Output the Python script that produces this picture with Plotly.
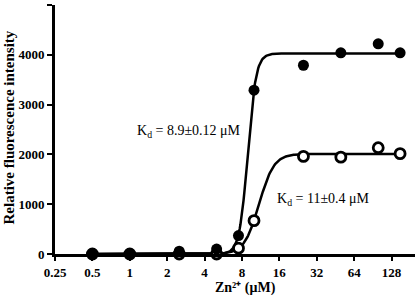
import numpy as np
import plotly.graph_objects as go

# Data
zn_conc = [0.5, 1, 2.5, 5, 7.5, 10, 25, 50, 100, 150]
filled_vals = [0, 0, 55, 100, 370, 3290, 3790, 4040, 4220, 4040]
open_vals = [0, 0, 0, 0, 117, 670, 1960, 1945, 2135, 2015]

# Hill fit parameters
fit_filled = dict(kd=8.9, bmax=4025, n=13)
fit_open = dict(kd=11.0, bmax=2010, n=7.3)

x_ticks = [0.25, 0.5, 1, 2, 4, 8, 16, 32, 64, 128]
x_ticktext = ["0.25", "0.5", "1", "2", "4", "8", "16", "32", "64", "128"]
y_ticks = [0, 1000, 2000, 3000, 4000, 5000]
y_ticktext = ["0", "1000", "2000", "3000", "4000", "5000"]

FONT = "Liberation Serif"


def hill(x, kd, bmax, n):
    x = np.asarray(x, dtype=float)
    return bmax * x**n / (kd**n + x**n)


xfit = np.logspace(np.log10(0.5), np.log10(150), 400)

fig = go.Figure()
fig.add_trace(go.Scatter(x=xfit, y=hill(xfit, **fit_open), mode="lines",
                         line=dict(color="black", width=2.5), cliponaxis=False,
                         showlegend=False, hoverinfo="skip"))
fig.add_trace(go.Scatter(x=xfit, y=hill(xfit, **fit_filled), mode="lines",
                         line=dict(color="black", width=2.5), cliponaxis=False,
                         showlegend=False, hoverinfo="skip"))
fig.add_trace(go.Scatter(x=zn_conc, y=open_vals, mode="markers",
                         marker=dict(symbol="circle", size=10, color="white",
                                     line=dict(color="black", width=2.8)),
                         cliponaxis=False, showlegend=False))
fig.add_trace(go.Scatter(x=zn_conc, y=filled_vals, mode="markers",
                         marker=dict(symbol="circle", size=11, color="black",
                                     line=dict(width=0)),
                         cliponaxis=False, showlegend=False))

W, H = 416, 295
L, R, T, B = 55, 1, 4.5, 40.5
pw, ph = W - L - R, H - T - B


def px(xpix):
    return (xpix - L) / pw


def py(ypix):
    return (H - B - ypix) / ph


fig.add_annotation(x=px(135), y=py(132), xref="paper", yref="paper",
                   text="K<sub>d</sub> = 8.9±0.12 μM", showarrow=False,
                   xanchor="left", yanchor="middle",
                   font=dict(family=FONT, size=14, color="black"))
fig.add_annotation(x=px(275), y=py(200), xref="paper", yref="paper",
                   text="K<sub>d</sub> = 11±0.4 μM", showarrow=False,
                   xanchor="left", yanchor="middle",
                   font=dict(family=FONT, size=14, color="black"))
fig.add_annotation(x=px(245.5), y=py(288.5), xref="paper", yref="paper",
                   text="<b>Zn²⁺ (μM)</b>", showarrow=False,
                   xanchor="center", yanchor="middle",
                   font=dict(family=FONT, size=14, color="black"))
fig.add_annotation(x=px(9), y=py(127.5), xref="paper", yref="paper",
                   text="<b>Relative fluorescence intensity</b>", showarrow=False,
                   textangle=-90, xanchor="center", yanchor="middle",
                   font=dict(family=FONT, size=15, color="black"))

fig.update_xaxes(type="log", range=[np.log10(0.25), 2.296],
                 tickvals=x_ticks, ticktext=["<b>%s</b>" % t for t in x_ticktext],
                 ticks="outside", ticklen=4, tickwidth=1.5, tickcolor="black",
                 showline=True, linewidth=3, linecolor="black",
                 showgrid=False, zeroline=False, automargin=False,
                 tickfont=dict(family=FONT, size=13, color="black"))
fig.update_yaxes(range=[0, 5000], tickvals=y_ticks,
                 ticktext=["<b>%s</b>" % t for t in y_ticktext],
                 ticks="outside", ticklen=5, tickwidth=2, tickcolor="black",
                 showline=True, linewidth=3, linecolor="black",
                 showgrid=False, zeroline=False, automargin=False,
                 tickfont=dict(family=FONT, size=13, color="black"))

fig.update_layout(width=W, height=H, margin=dict(l=L, r=R, t=T, b=B),
                  font=dict(family=FONT, color="black"),
                  paper_bgcolor="white", plot_bgcolor="white", showlegend=False)

fig.write_html("out.html", config={"displayModeBar": False},
               post_script="document.body.style.margin='0';")
